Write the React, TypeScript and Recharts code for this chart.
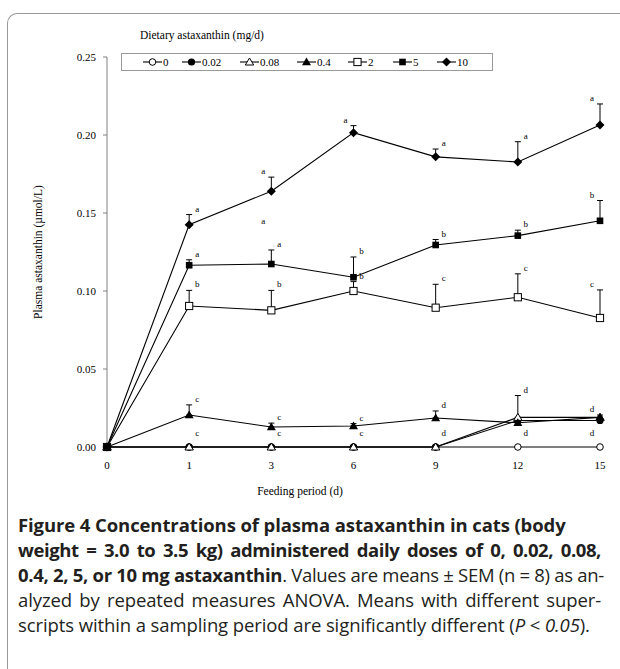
import { LineChart, Line, XAxis, YAxis, ErrorBar, ReferenceDot } from "recharts"

// feeding days (categories)
const DAYS = ["0", "1", "3", "6", "9", "12", "15"]
const Y_TICKS = [0, 0.05, 0.1, 0.15, 0.2, 0.25]

// means, µmol/L
const D0 = [0, 0, 0, 0, 0, 0, 0]
const D002 = [0, 0, 0, 0, 0, 0.017, 0.017]
const D008 = [0, 0, 0, 0, 0, 0.019, 0.019]
const D04 = [0, 0.0205, 0.0128, 0.0135, 0.0186, 0.0155, 0.019]
const D2 = [0, 0.0904, 0.0876, 0.1, 0.0893, 0.096, 0.0827]
const D5 = [0, 0.1165, 0.1173, 0.1088, 0.1295, 0.1355, 0.145]
const D10 = [0, 0.1425, 0.164, 0.2015, 0.186, 0.1827, 0.2064]

// upper SEM
const E0 = [0, 0, 0, 0, 0, 0, 0]
const E002 = [0, 0, 0, 0, 0, 0, 0.0015]
const E008 = [0, 0, 0, 0, 0, 0, 0]
const E04 = [0, 0.0065, 0.0025, 0.0015, 0.0045, 0.0175, 0.0015]
const E2 = [0, 0.01, 0.0128, 0.006, 0.015, 0.015, 0.018]
const E5 = [0, 0.0035, 0.009, 0.013, 0.0035, 0.0035, 0.013]
const E10 = [0, 0.0065, 0.009, 0.0045, 0.005, 0.013, 0.0135]

// superscript letters
const L0 = ["", "c", "c", "c", "d", "d", "d"]
const L04 = ["", "c", "c", "c", "d", "d", "d"]
const L2 = ["", "b", "b", "b", "c", "c", "c"]
const L5 = ["", "a", "a", "b", "b", "b", "b"]
const L10 = ["", "a", "a", "a", "a", "a", "a"]

type Series = { key: string; name: string; vals: number[]; errs: number[]; letters?: string[]; marker: string }

const SERIES: Series[] = [
  { key: "s0", name: "0", vals: D0, errs: E0, letters: L0, marker: "circleOpen" },
  { key: "s002", name: "0.02", vals: D002, errs: E002, marker: "circle" },
  { key: "s008", name: "0.08", vals: D008, errs: E008, marker: "triOpen" },
  { key: "s04", name: "0.4", vals: D04, errs: E04, letters: L04, marker: "tri" },
  { key: "s2", name: "2", vals: D2, errs: E2, letters: L2, marker: "squareOpen" },
  { key: "s5", name: "5", vals: D5, errs: E5, letters: L5, marker: "square" },
  { key: "s10", name: "10", vals: D10, errs: E10, letters: L10, marker: "diamond" },
]

// which letters sit left of their bar
const LEFT_SIDE: Record<string, number[]> = {
  s10: [2, 3, 6],
  s5: [6],
  s2: [6],
  s04: [6],
  s0: [6],
}
// extra lift (px) for the letters that sit on the baseline
const LIFT: Record<string, number> = { s0: 8 }

const data = DAYS.map((day, i) => {
  const row: Record<string, any> = { day }
  SERIES.forEach((s) => {
    row[s.key] = s.vals[i]
    row["e_" + s.key] = [0, s.errs[i]]
    row["t_" + s.key] = s.vals[i] + s.errs[i]
  })
  return row
})

const SERIF = "'Liberation Serif', 'DejaVu Serif', serif"

function Marker({ type, cx, cy }: { type: string; cx: number; cy: number }) {
  switch (type) {
    case "circleOpen":
      return <circle cx={cx} cy={cy} r={3.3} fill="#fff" stroke="#000" strokeWidth={1} />
    case "circle":
      return <circle cx={cx} cy={cy} r={3.6} fill="#000" />
    case "triOpen":
      return (
        <polygon
          points={`${cx},${cy - 4} ${cx - 4.2},${cy + 3} ${cx + 4.2},${cy + 3}`}
          fill="#fff"
          stroke="#000"
          strokeWidth={1}
        />
      )
    case "tri":
      return <polygon points={`${cx},${cy - 4.5} ${cx - 4.5},${cy + 3.2} ${cx + 4.5},${cy + 3.2}`} fill="#000" />
    case "squareOpen":
      return <rect x={cx - 3.6} y={cy - 3.6} width={7.2} height={7.2} fill="#fff" stroke="#000" strokeWidth={1} />
    case "square":
      return <rect x={cx - 3.3} y={cy - 3.3} width={6.6} height={6.6} fill="#000" />
    default:
      return <polygon points={`${cx},${cy - 4.5} ${cx + 4.5},${cy} ${cx},${cy + 4.5} ${cx - 4.5},${cy}`} fill="#000" />
  }
}

function makeDot(type: string) {
  return (props: any) => {
    const { cx, cy, index } = props
    if (cx == null || cy == null) return <g key={index} />
    return (
      <g key={index}>
        <Marker type={type} cx={cx} cy={cy} />
      </g>
    )
  }
}

function makeLetter(s: Series) {
  const left = LEFT_SIDE[s.key] || []
  const lift = LIFT[s.key] || 0
  return (props: any) => {
    const { x, y, index } = props
    const txt = s.letters ? s.letters[index] : ""
    if (!txt) return <g key={index} />
    const isLeft = left.includes(index)
    return (
      <text
        key={index}
        x={x + (isLeft ? -8 : 8)}
        y={y - 3 - lift}
        textAnchor="middle"
        fontSize={9}
        fontFamily={SERIF}
        fill="#000"
      >
        {txt}
      </text>
    )
  }
}

const LEGEND_X = [143, 182, 240, 297, 348, 393, 437]

export default function App() {
  return (
    <div style={{ position: "absolute", left: 0, top: 0, width: 620, height: 669, background: "#fff", overflow: "hidden" }}>
      <div
        style={{
          position: "absolute",
          left: 7,
          top: 13,
          width: 700,
          height: 700,
          borderTop: "1px solid #9a9a9a",
          borderLeft: "1px solid #9a9a9a",
          borderTopLeftRadius: 10,
        }}
      />
      <div style={{ position: "absolute", left: 0, top: 0 }}>
        <LineChart width={620} height={480} data={data} margin={{ top: 57, right: 20, left: 0, bottom: 0 }}>
          <XAxis
            dataKey="day"
            axisLine={false}
            tickLine={false}
            tickMargin={8}
            height={33}
            tick={{ fill: "#000", fontSize: 11, fontFamily: SERIF }}
          />
          <YAxis
            domain={[0, 0.25]}
            ticks={Y_TICKS}
            width={107}
            stroke="#808080"
            tickSize={4}
            tickMargin={7}
            tickFormatter={(v) => v.toFixed(2)}
            tick={{ fill: "#000", fontSize: 11, fontFamily: SERIF }}
          />
          {SERIES.map((s) => (
            <Line
              key={s.key}
              dataKey={s.key}
              name={s.name}
              stroke="#000"
              strokeWidth={1.1}
              dot={makeDot(s.marker)}
              activeDot={false}
              isAnimationActive={false}
            >
              <ErrorBar dataKey={"e_" + s.key} direction="y" width={3} stroke="#000" strokeWidth={1} />
            </Line>
          ))}
          {SERIES.filter((s) => s.letters).map((s) => (
            <Line
              key={"t_" + s.key}
              dataKey={"t_" + s.key}
              stroke="none"
              dot={false}
              activeDot={false}
              legendType="none"
              label={makeLetter(s)}
              isAnimationActive={false}
            />
          ))}
          <ReferenceDot
            x="3"
            y={0.143}
            r={0}
            shape={(p: any) => (
              <text x={p.cx - 8} y={p.cy} textAnchor="middle" fontSize={9} fontFamily={SERIF}>
                a
              </text>
            )}
          />
        </LineChart>
      </div>

      {/* axis titles */}
      <div
        style={{
          position: "absolute",
          left: 38,
          top: 252,
          transform: "translate(-50%, -50%) rotate(-90deg)",
          whiteSpace: "nowrap",
          fontFamily: SERIF,
          fontSize: 11.5,
        }}
      >
        Plasma astaxanthin (µmol/L)
      </div>
      <div
        style={{ position: "absolute", left: 300, top: 485, transform: "translateX(-50%)", whiteSpace: "nowrap", fontFamily: SERIF, fontSize: 11.5 }}
      >
        Feeding period (d)
      </div>

      {/* legend */}
      <div style={{ position: "absolute", left: 140, top: 29, fontFamily: SERIF, fontSize: 11.5 }}>
        Dietary astaxanthin (mg/d)
      </div>
      <div
        style={{
          position: "absolute",
          left: 121,
          top: 53,
          width: 372,
          height: 18,
          border: "1px solid #9a9a9a",
          boxSizing: "border-box",
        }}
      />
      {SERIES.map((s, i) => (
        <div
          key={s.key}
          style={{
            position: "absolute",
            left: LEGEND_X[i],
            top: 55,
            height: 14,
            display: "flex",
            alignItems: "center",
            fontFamily: SERIF,
            fontSize: 11,
          }}
        >
          <svg width={19} height={14}>
            <line x1={0} y1={7} x2={19} y2={7} stroke="#000" strokeWidth={1.1} />
            <Marker type={s.marker} cx={9.5} cy={7} />
          </svg>
          <span style={{ marginLeft: 1 }}>{s.name}</span>
        </div>
      ))}

      {/* caption */}
      <div
        style={{
          position: "absolute",
          left: 18,
          top: 512,
          width: 583,
          fontFamily: "'Open Sans', sans-serif",
          fontSize: 18.5,
          lineHeight: "25px",
          letterSpacing: -0.1,
          color: "#231f20",
          whiteSpace: "nowrap",
        }}
      >
        <div style={{ fontWeight: 700 }}>Figure 4 Concentrations of plasma astaxanthin in cats (body</div>
        <div style={{ fontWeight: 700, textAlign: "justify", textAlignLast: "justify", letterSpacing: -0.4 }}>
          weight = 3.0 to 3.5 kg) administered daily doses of 0, 0.02, 0.08,
        </div>
        <div style={{ textAlign: "justify", textAlignLast: "justify", letterSpacing: -0.3 }}>
          <b>0.4, 2, 5, or 10 mg astaxanthin</b>. Values are means ± SEM (n = 8) as an-
        </div>
        <div style={{ textAlign: "justify", textAlignLast: "justify" }}>
          alyzed by repeated measures ANOVA. Means with different super-
        </div>
        <div>
          scripts within a sampling period are significantly different (<i>P</i> &lt; <i>0.05</i>).
        </div>
      </div>
    </div>
  )
}
